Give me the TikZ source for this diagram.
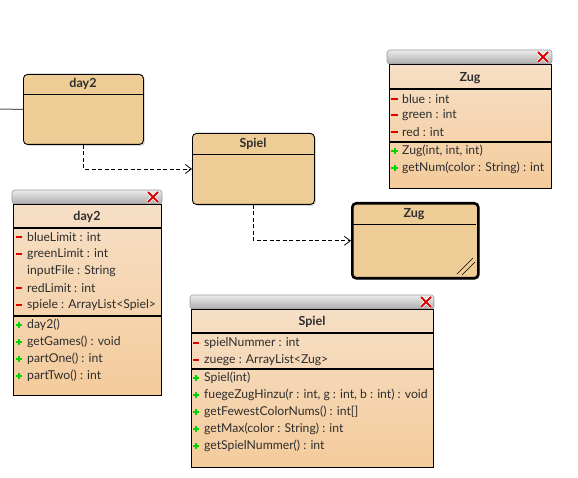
\documentclass[tikz,border=0pt]{standalone}
\usepackage{fontspec}
\setmainfont{Lato}
\usetikzlibrary{arrows.meta,shadows,calc}
\definecolor{smallfill}{RGB}{238,204,150}
\definecolor{wtop}{RGB}{246,223,198}
\definecolor{wbot}{RGB}{244,203,155}
\definecolor{minusred}{RGB}{225,0,0}
\definecolor{plusgreen}{RGB}{0,215,0}
\definecolor{txt}{RGB}{45,45,45}
\newcommand\umlminus[2]{\fill[minusred] (#1-3.2,#2-1) rectangle (#1+3.2,#2+1);}
\newcommand\umlplus[2]{\fill[plusgreen] (#1-3.2,#2-1) rectangle (#1+3.2,#2+1);\fill[plusgreen] (#1-1,#2-3.2) rectangle (#1+1,#2+3.2);}
\newcommand\umlclose[2]{%
  \draw[white,line width=3.4pt] (#1-5,#2-5) -- (#1+5,#2+5) (#1-5,#2+5) -- (#1+5,#2-5);
  \draw[red!85!black,line width=2pt] (#1-5,#2-5) -- (#1+5,#2+5) (#1-5,#2+5) -- (#1+5,#2-5);}
\tikzset{
  smallbox/.style={draw=black, line width=0.9pt, rounded corners=4pt, fill=smallfill, anchor=north west, inner sep=0pt,
    drop shadow={shadow xshift=1.5pt, shadow yshift=-1.5pt, opacity=0.3, fill=gray}},
  title/.style={font=\fontsize{12.5}{14}\selectfont\bfseries, text=txt, inner sep=0pt},
  member/.style={font=\fontsize{12.2}{14}\selectfont, text=txt, anchor=west, inner sep=0pt},
  winbox/.style={draw=black, line width=1.4pt, anchor=north west, inner sep=0pt, top color=wtop, bottom color=wbot},
  winbar/.style={rounded corners=3pt, draw=gray!80, line width=0.6pt, top color=gray!15, bottom color=gray!65},
  sep/.style={line width=1.4pt, black},
  dep/.style={dash pattern=on 4pt off 2.5pt, line width=0.8pt, -{Straight Barb[length=6pt,width=9pt]}},
}
\begin{document}
\begin{tikzpicture}[x=1pt,y=-1pt]
\useasboundingbox[fill=white] (0,0) rectangle (578,478);

% ---------- small boxes ----------
\node[smallbox, minimum width=120pt, minimum height=70pt] (d2s) at (23,74) {};
\draw[line width=0.9pt] (23,94) -- (143,94);
\node[title] (d2st) at (83,84) {day2};

\node[smallbox, minimum width=122pt, minimum height=71pt] (sps) at (192,133) {};
\draw[line width=0.9pt] (192,154) -- (314,154);
\node[title] (spst) at (253,144) {Spiel};

\node[smallbox, line width=2.6pt, minimum width=126pt, minimum height=75pt] (zs) at (351,202) {};
\draw[line width=0.9pt] (352,224) -- (476,224);
\node[title] (zst) at (414,214) {Zug};
\draw[line width=0.6pt] (457,274) -- (473,258) (462,275) -- (475,262);

% connectors
\coordinate (lft) at (0,109);
\draw[gray!70!black, line width=1pt] (lft) -- (d2s.west);
\draw[dep] (d2s.south) |- (sps.west);
\draw[dep] (sps.south) |- (zs.west);

% ---------- Zug window ----------
\shade[winbar] (387,50) rectangle (552,64);
\umlclose{543}{57}
\node[winbox, minimum width=162pt, minimum height=124pt] (zw) at (389,64) {};
\draw[sep] (389,89) -- (551,89);
\draw[sep] (389,142) -- (551,142);
\node[title] (zwt) at (470,78) {Zug};
\umlminus{394.5}{99}\node[member] (z1) at (402,99) {blue : int};
\umlminus{394.5}{115}\node[member] (z2) at (402,115) {green : int};
\umlminus{394.5}{132}\node[member] (z3) at (402,132) {red : int};
\umlplus{394.5}{151}\node[member] (z4) at (402,151) {Zug(int, int, int)};
\umlplus{394.5}{168}\node[member] (z5) at (402,168) {getNum(color : String) : int};

% ---------- day2 window ----------
\shade[winbar] (12,190) rectangle (162,204);
\umlclose{153}{197}
\node[winbox, minimum width=148pt, minimum height=191pt] (dw) at (13,204) {};
\draw[sep] (13,228) -- (161,228);
\draw[sep] (13,316) -- (161,316);
\node[title] (dwt) at (87,217) {day2};
\umlminus{19}{237}\node[member] (d1) at (27,237) {blueLimit : int};
\umlminus{19}{254}\node[member] (d2) at (27,254) {greenLimit : int};
\node[member] (d3) at (27,271) {inputFile : String};
\umlminus{19}{288}\node[member] (d4) at (27,288) {redLimit : int};
\umlminus{19}{305}\node[member] (d5) at (27,305) {spiele : ArrayList<Spiel>};
\umlplus{19}{325}\node[member] (d6) at (27,325) {day2()};
\umlplus{19}{342}\node[member] (d7) at (27,342) {getGames() : void};
\umlplus{19}{359}\node[member] (d8) at (27,359) {partOne() : int};
\umlplus{19}{376}\node[member] (d9) at (27,376) {partTwo() : int};

% ---------- Spiel window ----------
\shade[winbar] (190,295) rectangle (434,309);
\umlclose{426}{302}
\node[winbox, minimum width=242pt, minimum height=158pt] (sw) at (191,309) {};
\draw[sep] (191,333) -- (433,333);
\draw[sep] (191,369) -- (433,369);
\node[title] (swt) at (312,322) {Spiel};
\umlminus{196}{343}\node[member] (s1) at (204,343) {spielNummer : int};
\umlminus{196}{360}\node[member] (s2) at (204,360) {zuege : ArrayList<Zug>};
\umlplus{196}{378}\node[member] (s3) at (204,378) {Spiel(int)};
\umlplus{196}{395}\node[member] (s4) at (204,395) {fuegeZugHinzu(r : int, g : int, b : int) : void};
\umlplus{196}{412}\node[member] (s5) at (204,412) {getFewestColorNums() : int[]};
\umlplus{196}{429}\node[member] (s6) at (204,429) {getMax(color : String) : int};
\umlplus{196}{446}\node[member] (s7) at (204,446) {getSpielNummer() : int};
\end{tikzpicture}
\end{document}
